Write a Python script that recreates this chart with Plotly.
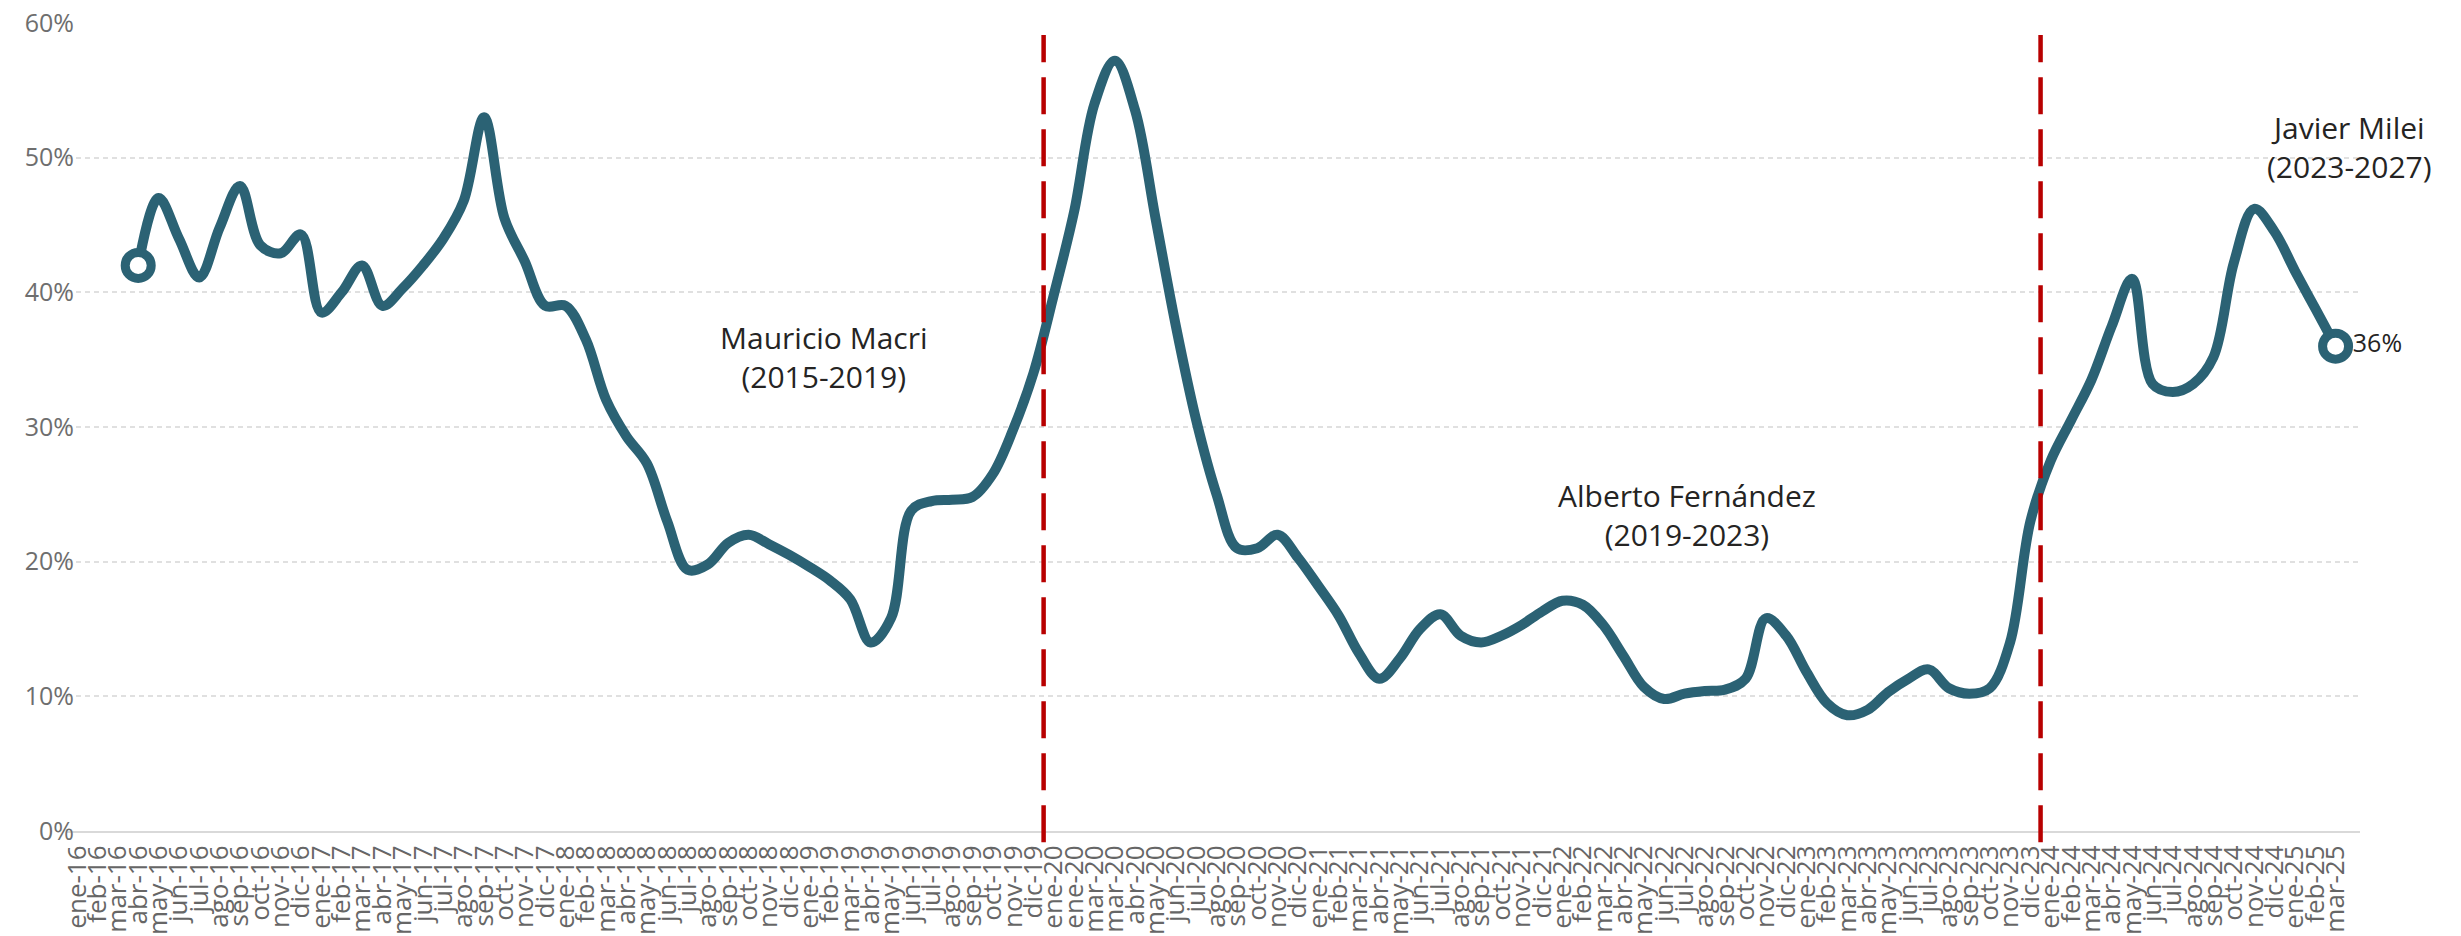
import plotly.graph_objects as go

# ---------------- data ----------------
labels = [
    "ene-16", "feb-16", "mar-16", "abr-16", "may-16", "jun-16", "jul-16", "ago-16", "sep-16", "oct-16", "nov-16", "dic-16",
    "ene-17", "feb-17", "mar-17", "abr-17", "may-17", "jun-17", "jul-17", "ago-17", "sep-17", "oct-17", "nov-17", "dic-17",
    "ene-18", "feb-18", "mar-18", "abr-18", "may-18", "jun-18", "jul-18", "ago-18", "sep-18", "oct-18", "nov-18", "dic-18",
    "ene-19", "feb-19", "mar-19", "abr-19", "may-19", "jun-19", "jul-19", "ago-19", "sep-19", "oct-19", "nov-19", "dic-19",
    "ene-20", "ene-20", "mar-20", "mar-20", "abr-20", "may-20", "jun-20", "jul-20", "ago-20", "sep-20", "oct-20", "nov-20", "dic-20",
    "ene-21", "feb-21", "mar-21", "abr-21", "may-21", "jun-21", "jul-21", "ago-21", "sep-21", "oct-21", "nov-21", "dic-21",
    "ene-22", "feb-22", "mar-22", "abr-22", "may-22", "jun-22", "jul-22", "ago-22", "sep-22", "oct-22", "nov-22", "dic-22",
    "ene-23", "feb-23", "mar-23", "abr-23", "may-23", "jun-23", "jul-23", "ago-23", "sep-23", "oct-23", "nov-23", "dic-23",
    "ene-24", "feb-24", "mar-24", "abr-24", "may-24", "jun-24", "jul-24", "ago-24", "sep-24", "oct-24", "nov-24", "dic-24",
    "ene-25", "feb-25", "mar-25",
]

values = [
    None, None, None, 42.0, 47.0, 44.0, 41.1, 44.8, 47.9, 43.5, 42.9, 44.3,
    38.5, 40.0, 42.0, 39.0, 40.3, 42.0, 44.0, 46.8, 53.0, 45.5, 42.3, 39.0,
    39.0, 36.5, 32.0, 29.3, 27.3, 23.0, 19.4, 19.8, 21.4, 22.0, 21.3, 20.5,
    19.6, 18.6, 17.2, 14.0, 15.8, 23.8, 24.5, 24.6, 24.8, 26.5, 29.8, 34.0,
    39.8, 46.0, 54.0, 57.2, 53.5, 45.5, 37.5, 30.5, 25.0, 21.0, 21.0, 22.0, 20.3,
    18.2, 16.0, 13.2, 11.3, 12.8, 15.0, 16.1, 14.5, 14.0, 14.5, 15.3, 16.3,
    17.1, 16.8, 15.3, 13.0, 10.7, 9.8, 10.2, 10.4, 10.5, 11.3, 15.8, 14.5,
    11.8, 9.5, 8.6, 9.0, 10.3, 11.3, 12.0, 10.6, 10.2, 10.6, 14.0, 23.0,
    27.5, 30.5, 33.5, 37.5, 41.0, 33.2, 32.6, 33.2, 35.2, 42.2, 46.2, 44.5,
    41.6, 38.8, 36.0,
]

# period boundaries (between dic and ene, in category positions)
period_breaks = [47.5, 96.5]

periods = ["Mauricio Macri<br>(2015-2019)",
           "Alberto Fernández<br>(2019-2023)",
           "Javier Milei<br>(2023-2027)"]
period_label_x = [36.7, 79.1, 111.7]
period_label_y = [35.2, 23.5, 50.8]

y_ticks = [0, 10, 20, 30, 40, 50, 60]

# ---------------- figure ----------------
LINE = "#2B6274"
FONT = "Open Sans"

x = list(range(len(labels)))
valid = [i for i, v in enumerate(values) if v is not None]
first_i, last_i = valid[0], valid[-1]

fig = go.Figure()

fig.add_trace(go.Scatter(
    x=x, y=values, mode="lines",
    line=dict(color=LINE, width=10, shape="spline", smoothing=1.0),
    connectgaps=False, hoverinfo="skip", showlegend=False, cliponaxis=False,
))

fig.add_trace(go.Scatter(
    x=[first_i, last_i], y=[values[first_i], values[last_i]],
    mode="markers+text",
    marker=dict(size=26, color="white", line=dict(color=LINE, width=9)),
    text=["", f"{values[last_i]:.0f}%"],
    textposition="middle right",
    textfont=dict(family=FONT, size=25, color="#252423"),
    cliponaxis=False, hoverinfo="skip", showlegend=False,
))

shapes = []
for b in period_breaks:
    shapes.append(dict(
        type="line", xref="x", yref="paper",
        x0=b, x1=b, y0=-0.014, y1=0.985,
        line=dict(color="#B80000", width=4.5, dash="37px,15px"),
        layer="above",
    ))

annotations = []
for txt, ax_, ay_ in zip(periods, period_label_x, period_label_y):
    annotations.append(dict(
        x=ax_, y=ay_, xref="x", yref="y", text=txt, showarrow=False,
        align="center", xanchor="center", yanchor="middle",
        font=dict(family=FONT, size=30, color="#252423"),
    ))

# the page body adds an 8px offset; margins compensate so the plot area lands
# at the same place as in the reference
fig.update_layout(
    width=2461, height=936,
    margin=dict(l=59, r=109, t=15, b=113, autoexpand=False),
    paper_bgcolor="white", plot_bgcolor="white",
    shapes=shapes, annotations=annotations,
    font=dict(family=FONT),
)

fig.update_xaxes(
    range=[-0.5, 112.2], automargin=False, ticklabeloverflow="allow",
    tickmode="array", tickvals=x, ticktext=labels,
    tickangle=-90, tickfont=dict(family=FONT, size=26, color="#666666"),
    showgrid=False, zeroline=False,
    showline=True, linecolor="#D9D9D9", linewidth=2,
    ticks="", ticklabelstandoff=2,
)

fig.update_yaxes(
    range=[0, 60], automargin=False, ticklabeloverflow="allow",
    tickmode="array", tickvals=y_ticks, ticktext=[f"{t}%" for t in y_ticks],
    tickfont=dict(family=FONT, size=25, color="#6E6E6E"),
    showgrid=True, gridcolor="#E0E0E0", gridwidth=1.5, griddash="5px,4px",
    zeroline=False, showline=False, ticks="", ticklabelstandoff=-8,
)

fig.write_html("out.html")
